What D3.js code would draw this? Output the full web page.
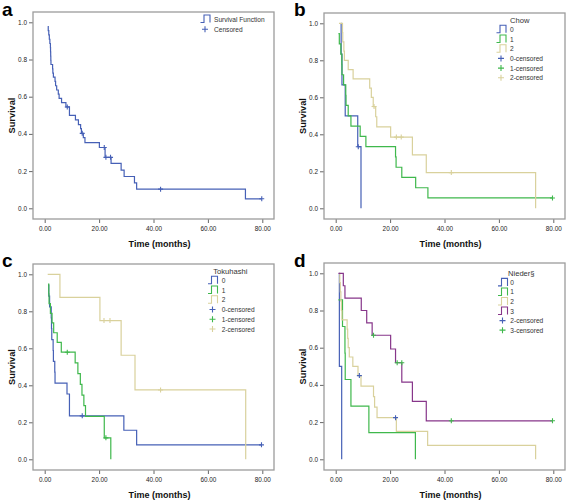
<!DOCTYPE html>
<html><head><meta charset="utf-8">
<script src="https://cdn.jsdelivr.net/npm/d3@7"></script>
<style>body{margin:0;background:#fff}</style>
</head><body><svg id="c" width="567" height="501"></svg>
<script>
// ---------- tick values / labels ----------
const xTicks = [0, 20, 40, 60, 80];
const yTicks = [0, 0.2, 0.4, 0.6, 0.8, 1.0];
const xTitle = "Time (months)";
const yTitle = "Survival";

// ---------- panel a : overall ----------
const aT = [1.1,1.3,1.5,1.7,1.9,2.1,2.15,2.2,2.25,2.3,2.9,3.0,3.2,3.8,4.0,4.4,5.0,5.3,6.2,7.8,9.1,11.3,12.4,13.2,13.5,14.2,14.8,20.1,22.2,24.4,28.1,29.2,33.0,33.8,73.8,79.8];
const aS = [0.977,0.955,0.932,0.909,0.886,0.864,0.841,0.818,0.795,0.773,0.75,0.727,0.705,0.682,0.659,0.636,0.614,0.591,0.568,0.545,0.5,0.475,0.45,0.428,0.403,0.38,0.353,0.327,0.274,0.242,0.205,0.171,0.137,0.103,0.051,0.051];
const aCensT = [8.3,13.8,21.9,22.5,24.2,42.6,79.8];
const aCensS = [0.545,0.403,0.327,0.274,0.274,0.103,0.051];

// ---------- panel b : Chow ----------
const b0T = [1.9,2.0,2.3,3.5,8.1,9.3];
const b0S = [1.0,0.833,0.667,0.5,0.333,0];
const b0CensT = [8.3], b0CensS = [0.333];
const b1T = [1.0,1.33,1.9,2.25,2.3,2.9,3.7,3.8,4.6,5.6,9.0,11.1,22.0,22.2,24.3,29.4,33.9,79.7];
const b1S = [0.944,0.889,0.833,0.778,0.722,0.667,0.611,0.556,0.5,0.444,0.389,0.333,0.278,0.222,0.167,0.111,0.056,0.056];
const b1CensT = [79.7], b1CensS = [0.056];
const b2T = [1.2,2.5,2.6,3.0,3.2,4.6,6.4,12.5,13.1,13.8,14.7,15.1,20.2,28.2,33.3,73.5];
const b2S = [1.0,0.95,0.9,0.85,0.8,0.75,0.7,0.65,0.6,0.55,0.495,0.44,0.385,0.289,0.193,0];
const b2CensT = [14.1,22.3,24.1,42.5], b2CensS = [0.55,0.385,0.385,0.193];

// ---------- panel c : Tokuhashi ----------
const c0T = [1.2,1.5,1.8,2.4,2.5,2.6,3.1,3.2,3.7,3.8,8.2,9.1,29.1,33.8,79.7];
const c0S = [0.941,0.882,0.824,0.765,0.706,0.647,0.588,0.529,0.471,0.412,0.353,0.235,0.157,0.078,0.078];
const c0CensT = [13.8,79.7], c0CensS = [0.235,0.078];
const c1T = [1.2,1.5,1.6,2.1,2.7,3.3,4.6,6.1,11.2,12.2,13.1,13.7,14.4,15.0,21.9,24.3];
const c1S = [0.947,0.895,0.842,0.789,0.737,0.684,0.632,0.579,0.521,0.463,0.405,0.347,0.29,0.232,0.116,0];
const c1CensT = [8.3,22.5], c1CensS = [0.579,0.116];
const c2T = [1.1,5.6,20.3,28.1,33.2,73.9];
const c2S = [1.0,0.875,0.75,0.5625,0.375,0];
const c2CensT = [21.8,24.0,42.6], c2CensS = [0.75,0.75,0.375];

// ---------- panel d : Nieder ----------
const d0T = [1.3,1.35,2.2];
const d0S = [1.0,0.5,0];
const d1T = [1.0,2.5,3.4,3.5,5.6,12.2,29.3];
const d1S = [0.857,0.714,0.571,0.429,0.286,0.143,0];
const d2T = [1.3,1.5,1.7,1.9,2.1,2.3,4.2,4.4,4.6,5.0,6.3,8.2,9.3,13.9,14.3,15.2,22.3,33.8,73.5];
const d2S = [1.0,0.95,0.9,0.85,0.8,0.75,0.7,0.65,0.6,0.55,0.5,0.45,0.393,0.337,0.28,0.224,0.15,0.075,0];
const d2CensT = [8.7,22.0], d2CensS = [0.45,0.224];
const d3T = [1.0,2.8,3.4,9.4,11.4,13.4,20.2,22.0,24.3,28.2,33.3,79.7];
const d3S = [1.0,0.933,0.867,0.8,0.733,0.667,0.593,0.519,0.415,0.311,0.207,0.207];
const d3CensT = [13.9,22.6,24.3,42.5,79.7], d3CensS = [0.667,0.519,0.519,0.207,0.207];

// ---------- legend labels ----------
const aLegend = ["Survival Function","Censored"];
const bLegendTitle = "Chow", bLegend = ["0","1","2","0-censored","1-censored","2-censored"];
const cLegendTitle = "Tokuhashi", cLegend = ["0","1","2","0-censored","1-censored","2-censored"];
const dLegendTitle = "Nieder§", dLegend = ["0","1","2","3","2-censored","3-censored"];

// ---------- drawing ----------
const COL = {blue:'#4660b6', green:'#3fb84c', tan:'#d9d19c', purple:'#87368a'};
const FONT = 'Arial, "Liberation Sans", Helvetica, sans-serif';
const svg = d3.select('#c');
svg.append('rect').attr('width',567).attr('height',501).attr('fill','#fff');

const zip = (T,S) => T.map((t,i)=>[t,S[i]]);

function drawPanel(p){
  const [L,T,R,B] = p.box;
  const x = d3.scaleLinear().domain([0,80]).range([L+11.7, R-11.7]);
  const y = d3.scaleLinear().domain([0,1]).range([B-10.7, T+10.3]);
  const g = svg.append('g');

  // axes
  const ya = d3.axisLeft(y).tickValues(yTicks).tickFormat(d3.format('.1f')).tickSize(4).tickPadding(2);
  const yg = g.append('g').attr('transform',`translate(${L},0)`).call(ya);
  const xa = d3.axisBottom(x).tickValues(xTicks).tickFormat(d3.format('.2f')).tickSize(4).tickPadding(3);
  const xg = g.append('g').attr('transform',`translate(0,${B})`).call(xa);
  [yg,xg].forEach(a=>{
    a.select('.domain').remove();
    a.selectAll('line').attr('stroke','#555').attr('stroke-width',0.9);
    a.selectAll('text').attr('font-family',FONT).attr('font-size',6.4).attr('fill','#222');
  });

  // frame
  g.append('rect').attr('x',L).attr('y',T).attr('width',R-L).attr('height',B-T)
    .attr('fill','none').attr('stroke','#9c9c9c').attr('stroke-width',1.3);

  // titles
  g.append('text').attr('x',(L+R)/2+6).attr('y',B+27.5).attr('text-anchor','middle')
    .attr('font-family',FONT).attr('font-weight','bold').attr('font-size',9).attr('fill','#111').text(xTitle);
  g.append('text').attr('transform',`translate(${L-18},${(T+B)/2}) rotate(-90)`).attr('text-anchor','middle')
    .attr('font-family',FONT).attr('font-weight','bold').attr('font-size',9.2).attr('fill','#111').text(yTitle);
  g.append('text').attr('x',p.label[0]).attr('y',p.label[1])
    .attr('font-family',FONT).attr('font-weight','bold').attr('font-size',19).attr('fill','#000').text(p.id);

  // curves
  const line = d3.line().x(d=>x(d[0])).y(d=>y(d[1])).curve(d3.curveStepAfter);
  p.curves.forEach(c=>{
    g.append('path').attr('d', line(zip(c.T,c.S))).attr('fill','none')
      .attr('stroke',c.color).attr('stroke-width',1.2);
  });
  // censored marks
  p.cens.forEach(c=>{
    zip(c.T,c.S).forEach(d=>{
      const cx=x(d[0]), cy=y(d[1]);
      g.append('path').attr('d',`M${cx-2.5},${cy}H${cx+2.5}M${cx},${cy-2.5}V${cy+2.5}`)
        .attr('stroke',c.color).attr('stroke-width',1.1).attr('fill','none');
    });
  });

  // legend
  const lg = p.legend;
  if (lg.title) {
    g.append('text').attr('x',lg.titleX).attr('y',lg.titleY).attr('dominant-baseline','central')
      .attr('font-family',FONT).attr('font-size',7.6).attr('fill','#333').text(lg.title);
  }
  lg.items.forEach((it,i)=>{
    const cy = lg.y0 + i*lg.dy, ix = lg.iconX;
    if (it.type==='step') {
      g.append('path').attr('d',`M${ix},${cy+3.5}H${ix+3.5}V${cy-4}H${ix+9.5}V${cy+3.5}`)
        .attr('fill','none').attr('stroke',it.color).attr('stroke-width',1.1);
    } else {
      const px = ix+4.5;
      g.append('path').attr('d',`M${px-3},${cy}H${px+3}M${px},${cy-3}V${cy+3}`)
        .attr('fill','none').attr('stroke',it.color).attr('stroke-width',1.1);
    }
    g.append('text').attr('x',lg.textX).attr('y',cy).attr('dominant-baseline','central')
      .attr('font-family',FONT).attr('font-size',6.6).attr('fill','#333').text(it.text);
  });
}

drawPanel({
  id:'a', box:[33,12,274,219], label:[2,15.5],
  curves:[{T:aT,S:aS,color:COL.blue}],
  cens:[{T:aCensT,S:aCensS,color:COL.blue}],
  legend:{iconX:200.5, textX:214, y0:19, dy:10.2, items:[
    {type:'step',color:COL.blue,text:aLegend[0]},
    {type:'plus',color:COL.blue,text:aLegend[1]}]}
});
drawPanel({
  id:'b', box:[324,13,565,219], label:[294,15.5],
  curves:[{T:b0T,S:b0S,color:COL.blue},{T:b1T,S:b1S,color:COL.green},{T:b2T,S:b2S,color:COL.tan}],
  cens:[{T:b0CensT,S:b0CensS,color:COL.blue},{T:b1CensT,S:b1CensS,color:COL.green},{T:b2CensT,S:b2CensS,color:COL.tan}],
  legend:{title:bLegendTitle, titleX:510, titleY:20.7, iconX:496.5, textX:510, y0:29.3, dy:9.7, items:[
    {type:'step',color:COL.blue,text:bLegend[0]},
    {type:'step',color:COL.green,text:bLegend[1]},
    {type:'step',color:COL.tan,text:bLegend[2]},
    {type:'plus',color:COL.blue,text:bLegend[3]},
    {type:'plus',color:COL.green,text:bLegend[4]},
    {type:'plus',color:COL.tan,text:bLegend[5]}]}
});
drawPanel({
  id:'c', box:[33,264,274,470], label:[2,267],
  curves:[{T:c0T,S:c0S,color:COL.blue},{T:c1T,S:c1S,color:COL.green},{T:c2T,S:c2S,color:COL.tan}],
  cens:[{T:c0CensT,S:c0CensS,color:COL.blue},{T:c1CensT,S:c1CensS,color:COL.green},{T:c2CensT,S:c2CensS,color:COL.tan}],
  legend:{title:cLegendTitle, titleX:213.3, titleY:271.8, iconX:208, textX:221.7, y0:280.3, dy:9.75, items:[
    {type:'step',color:COL.blue,text:cLegend[0]},
    {type:'step',color:COL.green,text:cLegend[1]},
    {type:'step',color:COL.tan,text:cLegend[2]},
    {type:'plus',color:COL.blue,text:cLegend[3]},
    {type:'plus',color:COL.green,text:cLegend[4]},
    {type:'plus',color:COL.tan,text:cLegend[5]}]}
});
drawPanel({
  id:'d', box:[324,263,565,470], label:[294,267],
  curves:[{T:d0T,S:d0S,color:COL.blue},{T:d1T,S:d1S,color:COL.green},{T:d2T,S:d2S,color:COL.tan},{T:d3T,S:d3S,color:COL.purple}],
  cens:[{T:d2CensT,S:d2CensS,color:COL.blue},{T:d3CensT,S:d3CensS,color:COL.green}],
  legend:{title:dLegendTitle, titleX:508, titleY:273.4, iconX:498, textX:510.3, y0:282.4, dy:9.55, items:[
    {type:'step',color:COL.blue,text:dLegend[0]},
    {type:'step',color:COL.green,text:dLegend[1]},
    {type:'step',color:COL.tan,text:dLegend[2]},
    {type:'step',color:COL.purple,text:dLegend[3]},
    {type:'plus',color:COL.blue,text:dLegend[4]},
    {type:'plus',color:COL.green,text:dLegend[5]}]}
});
</script></body></html>
